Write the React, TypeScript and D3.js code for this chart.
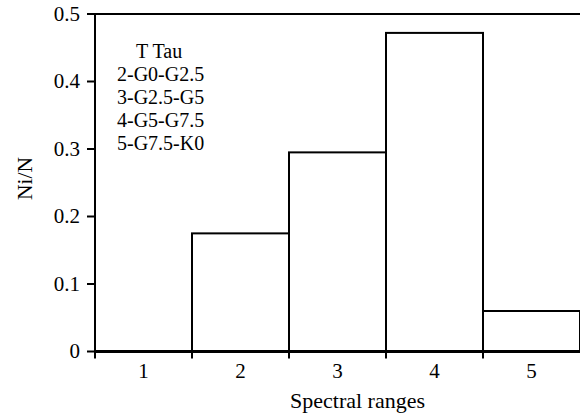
import React from 'react';
import * as d3 from 'd3';

const categories = ['1', '2', '3', '4', '5'];
const fractions = [0, 0.175, 0.295, 0.472, 0.06];
const yTicks = [0, 0.1, 0.2, 0.3, 0.4, 0.5];
const legendLines = ['T Tau', '2-G0-G2.5', '3-G2.5-G5', '4-G5-G7.5', '5-G7.5-K0'];

export default function App() {
  const width = 580;
  const height = 414;
  const left = 95;
  const right = 580;
  const top = 14;
  const bottom = 351.5;

  const x = d3.scaleBand().domain(categories).range([left, right]).paddingInner(0).paddingOuter(0);
  const y = d3.scaleLinear().domain([0, 0.5]).range([bottom, top]);
  const font = 'Liberation Serif, serif';

  const boundaries = categories.map(c => x(c));

  return (
    <svg width={width} height={height} style={{ position: 'absolute', left: 0, top: 0, fontFamily: font }}>
      <rect width={width} height={height} fill="#fff" />
      {/* bars */}
      {categories.map((c, i) => (
        fractions[i] > 0 ? (
          <rect key={c} x={x(c)} y={y(fractions[i])} width={x.bandwidth()} height={bottom - y(fractions[i])}
            fill="none" stroke="#000" strokeWidth={2} />
        ) : null
      ))}
      {/* frame top */}
      <line x1={left} x2={right} y1={top} y2={top} stroke="#000" strokeWidth={2} />
      {/* y axis */}
      <line x1={left} x2={left} y1={top} y2={bottom + 6} stroke="#000" strokeWidth={2} />
      {yTicks.map(t => (
        <g key={t}>
          <line x1={left - 8} x2={left} y1={y(t)} y2={y(t)} stroke="#000" strokeWidth={2} />
          <text x={80} y={y(t)} dy="0.33em" textAnchor="end" fontSize={21}>{t === 0 ? '0' : t.toFixed(1)}</text>
        </g>
      ))}
      {/* x axis */}
      <line x1={left} x2={right} y1={bottom} y2={bottom} stroke="#000" strokeWidth={3} />
      {boundaries.map((b, i) => (
        <line key={i} x1={b} x2={b} y1={bottom} y2={bottom + 7} stroke="#000" strokeWidth={2} />
      ))}
      {categories.map(c => (
        <text key={c} x={(x(c) as number) + x.bandwidth() / 2} y={378} textAnchor="middle" fontSize={21}>{c}</text>
      ))}
      <text x={357.5} y={408} textAnchor="middle" fontSize={22}>Spectral ranges</text>
      <text transform="translate(32,178.5) rotate(-90)" textAnchor="middle" fontSize={21.5}>Ni/N</text>
      {/* legend */}
      {legendLines.map((l, i) => (
        <text key={l} x={i === 0 ? 136 : 117} y={58 + i * 23} fontSize={20}>{l}</text>
      ))}
    </svg>
  );
}
